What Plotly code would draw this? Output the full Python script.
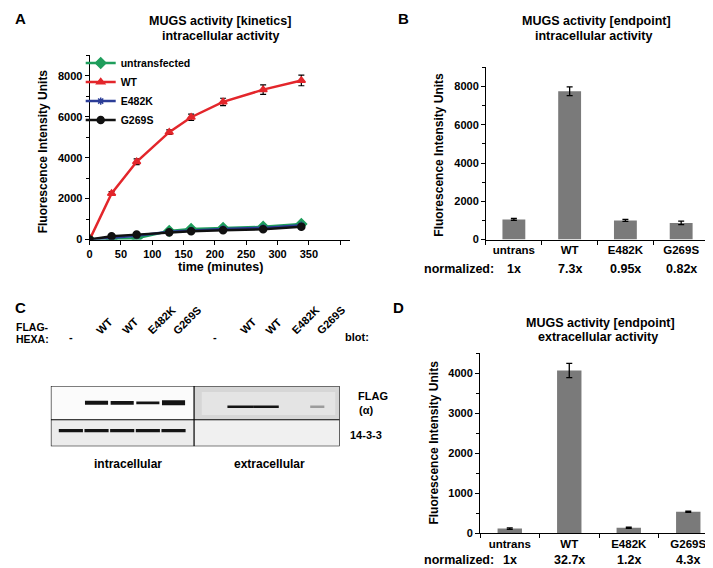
import plotly.graph_objects as go

W, H = 713, 568
FONT = "Liberation Sans, Arial, sans-serif"

# ---- panel A: MUGS kinetics (intracellular)
time_min = [0, 35, 75, 127, 162, 213, 277, 338]
kin_untransfected = [0, 10, 60, 420, 510, 560, 620, 760]
kin_untransfected_err = [0, 20, 20, 30, 30, 30, 40, 40]
kin_wt = [0, 2250, 3800, 5250, 5980, 6730, 7330, 7780]
kin_wt_err = [0, 90, 140, 110, 150, 180, 230, 260]
kin_e482k = [0, 90, 190, 380, 450, 520, 570, 700]
kin_e482k_err = [0, 20, 20, 30, 30, 30, 30, 40]
kin_g269s = [0, 160, 240, 350, 400, 450, 500, 630]
kin_g269s_err = [0, 20, 20, 20, 30, 30, 30, 40]
time_ticks = [0, 50, 100, 150, 200, 250, 300, 350, 400]
time_ticktext = ["0", "50", "100", "150", "200", "250", "300", "350", ""]

# ---- panels B / D: endpoint
variants = ["untrans", "WT", "E482K", "G269S"]
intra_end = [1050, 7750, 1000, 870]
intra_err = [50, 230, 50, 90]
intra_norm = ["1x", "7.3x", "0.95x", "0.82x"]
extra_end = [120, 4070, 140, 540]
extra_err = [20, 180, 15, 15]
extra_norm = ["1x", "32.7x", "1.2x", "4.3x"]

# ---- panel C: western blot (relative band strength per lane)
blot_lanes = ["-", "WT", "WT", "E482K", "G269S"]
flag_intra = [0, 1.0, 0.95, 0.7, 1.25]
loading_intra = [0.8, 0.8, 0.8, 0.8, 0.85]
flag_extra = [0, 0.6, 0.65, 0, 0.2]
loading_extra = [0, 0, 0, 0, 0]


def px(x):
    return x / W


def py(y):
    return 1 - y / H


def bold(size):
    return dict(family=FONT, size=size, color="black", weight="bold")


fig = go.Figure()

# panel A traces
series = [
    ("untransfected", kin_untransfected, kin_untransfected_err, "#1f9e5c", "diamond", 8),
    ("WT", kin_wt, kin_wt_err, "#e3262b", "triangle-up", 7),
    ("E482K", kin_e482k, kin_e482k_err, "#2b3d97", "asterisk-open", 6),
    ("G269S", kin_g269s, kin_g269s_err, "#111111", "circle", 7),
]
for name, vals, errs, color, symbol, size in series:
    fig.add_trace(go.Scatter(
        x=time_min, y=vals, name=name, mode="lines+markers",
        line=dict(color=color, width=2.5),
        marker=dict(symbol=symbol, size=size, color=color, line=dict(color=color, width=1.5)),
        error_y=dict(type="data", array=errs, color="black", thickness=1.2, width=3),
        xaxis="x", yaxis="y",
    ))

# panel B / D bars
fig.add_trace(go.Bar(
    x=variants, y=intra_end, width=0.41, marker=dict(color="#7a7a7a", line=dict(width=0)),
    error_y=dict(type="data", array=intra_err, color="black", thickness=1.3, width=3),
    xaxis="x2", yaxis="y2", showlegend=False,
))
fig.add_trace(go.Bar(
    x=variants, y=extra_end, width=0.41, marker=dict(color="#7a7a7a", line=dict(width=0)),
    error_y=dict(type="data", array=extra_err, color="black", thickness=1.3, width=3),
    xaxis="x3", yaxis="y3", showlegend=False,
))

# panel C bands
left_x = [i for i in range(5)]
right_x = [5.6 + i for i in range(5)]
rows = [
    (left_x, flag_intra, 0.72, 0.45),
    (left_x, loading_intra, 0.26, 0.47),
    (right_x, flag_extra, 0.655, 0.5),
    (right_x, loading_extra, 0.26, 0.47),
]
for xs, strengths, yrow, half in rows:
    for xc, s in zip(xs, strengths):
        if s <= 0:
            continue
        v = int(235 - 215 * min(1.0, s / 0.55))
        hw = half if s > 0.3 else half * 0.55
        fig.add_trace(go.Scatter(
            x=[xc - hw, xc + hw], y=[yrow, yrow], mode="lines",
            line=dict(color=f"rgb({v},{v},{v})", width=4 * max(s, 0.6)),
            xaxis="x4", yaxis="y4", showlegend=False, hoverinfo="skip",
        ))

axis_common = dict(
    showline=True, linecolor="black", linewidth=1, ticks="outside", ticklen=4,
    tickcolor="black", showgrid=False, zeroline=False, tickfont=bold(11),
)

fig.update_layout(
    width=W, height=H, margin=dict(l=0, r=0, t=0, b=0),
    paper_bgcolor="white", plot_bgcolor="white",
    font=dict(family=FONT, color="black"),
    bargap=0.5,
    xaxis=dict(domain=[px(79), px(340)], range=[0, 415], tickvals=time_ticks,
               ticktext=time_ticktext, anchor="y", **axis_common),
    yaxis=dict(domain=[py(234), py(48)], range=[0, 9000], dtick=2000, anchor="x",
               minor=dict(ticks="outside", ticklen=3, dtick=1000, tickcolor="black"),
               **axis_common),
    xaxis2=dict(domain=[px(477), px(701)], range=[-0.5, 3.5], anchor="y2",
                tickson="boundaries", **{**axis_common, "tickfont": bold(11.5)}),
    yaxis2=dict(domain=[py(234), py(60)], range=[0, 9000], dtick=2000, anchor="x2",
                minor=dict(ticks="outside", ticklen=3, dtick=1000, tickcolor="black"),
                **axis_common),
    xaxis3=dict(domain=[px(471), px(710)], range=[-0.5, 3.5], anchor="y3",
                tickson="boundaries", **{**axis_common, "tickfont": bold(11.5)}),
    yaxis3=dict(domain=[py(531), py(349)], range=[0, 4500], dtick=1000, anchor="x3",
                minor=dict(ticks="outside", ticklen=3, dtick=500, tickcolor="black"),
                **axis_common),
    xaxis4=dict(domain=[px(40), px(330)], range=[-0.78, 10.47], visible=False, anchor="y4"),
    yaxis4=dict(domain=[py(443), py(382)], range=[0, 1], visible=False, anchor="x4"),
    legend=dict(x=px(70), y=py(41), xanchor="left", yanchor="top", font=bold(10.5),
                bgcolor="rgba(0,0,0,0)", tracegroupgap=0, itemwidth=30),
)

# blot backgrounds and frame
DIV_X = 4.8
DIV_Y = 0.44
shapes = [
    dict(type="rect", xref="x4", yref="y4", x0=-0.78, x1=DIV_X, y0=DIV_Y, y1=1,
         fillcolor="#fbfbfb", line=dict(width=0), layer="below"),
    dict(type="rect", xref="x4", yref="y4", x0=-0.78, x1=DIV_X, y0=0, y1=DIV_Y,
         fillcolor="#ececec", line=dict(width=0), layer="below"),
    dict(type="rect", xref="x4", yref="y4", x0=DIV_X, x1=10.47, y0=DIV_Y, y1=1,
         fillcolor="#d6d6d6", line=dict(width=0), layer="below"),
    dict(type="rect", xref="x4", yref="y4", x0=DIV_X + 0.3, x1=10.3, y0=DIV_Y + 0.08, y1=0.9,
         fillcolor="#e4e4e4", line=dict(width=0), layer="below"),
    dict(type="rect", xref="x4", yref="y4", x0=DIV_X, x1=10.47, y0=0, y1=DIV_Y,
         fillcolor="#f0f0f0", line=dict(width=0), layer="below"),
    dict(type="rect", xref="x4", yref="y4", x0=-0.78, x1=10.47, y0=0, y1=1,
         line=dict(color="black", width=1.2)),
    dict(type="line", xref="x4", yref="y4", x0=DIV_X, x1=DIV_X, y0=0, y1=1,
         line=dict(color="black", width=1.2)),
    dict(type="line", xref="x4", yref="y4", x0=-0.78, x1=10.47, y0=DIV_Y, y1=DIV_Y,
         line=dict(color="black", width=1.2)),
]
fig.update_layout(shapes=shapes)

ann = []


def text(x, y, s, size=11, xanchor="center", yanchor="middle", angle=0, xref="paper"):
    ann.append(dict(x=x, y=y, xref=xref, yref="paper", text=s, showarrow=False,
                    font=bold(size), xanchor=xanchor, yanchor=yanchor, textangle=angle))


# panel letters
text(px(2), py(11), "A", 15, "left")
text(px(387), py(11), "B", 15, "left")
text(px(2), py(303), "C", 15, "left")
text(px(382), py(303), "D", 15, "left")

# titles
text(px(210), py(13), "MUGS activity [kinetics]", 12.5)
text(px(210), py(28), "intracellular activity", 12.5)
text(px(588), py(13), "MUGS activity [endpoint]", 12.5)
text(px(585), py(28), "intracellular activity", 12.5)
text(px(592), py(318), "MUGS activity [endpoint]", 12.5)
text(px(589), py(333), "extracellular activity", 12.5)

# axis titles
text(px(33), py(145), "Fluorescence Intensity Units", 12, angle=-90)
text(px(430), py(148), "Fluorescence Intensity Units", 12, angle=-90)
text(px(425), py(439), "Fluorescence Intensity Units", 12, angle=-90)
text(px(210), py(262), "time (minutes)", 12.5)

# normalized rows
text(px(413), py(264), "normalized:", 12.5, "left")
for v, s in zip(variants, intra_norm):
    text(v, py(264), s, 12.5, xref="x2")
text(px(413), py(558), "normalized:", 12.5, "left")
for v, s in zip(variants, extra_norm):
    text(v, py(558), s, 12.5, xref="x3")

# blot labels
text(px(3), py(322), "FLAG-", 10.5, "left")
text(px(3), py(335), "HEXA:", 10.5, "left")
for xs in (left_x, right_x):
    for xc, lab in zip(xs, blot_lanes):
        if lab == "-":
            text(xc, py(333), "-", 11, xref="x4")
        else:
            text(xc - 0.2, py(335), lab, 11, "left", "bottom", angle=-45, xref="x4")
text(px(333), py(333), "blot:", 11, "left")
text(px(346), py(392), "FLAG", 11, "left")
text(px(357), py(406), "(α)", 11)
text(px(338), py(432), "14-3-3", 11, "left")
text(px(117), py(461), "intracellular", 12)
text(px(260), py(461), "extracellular", 12)

fig.update_layout(annotations=ann)

fig.write_html("out.html")
